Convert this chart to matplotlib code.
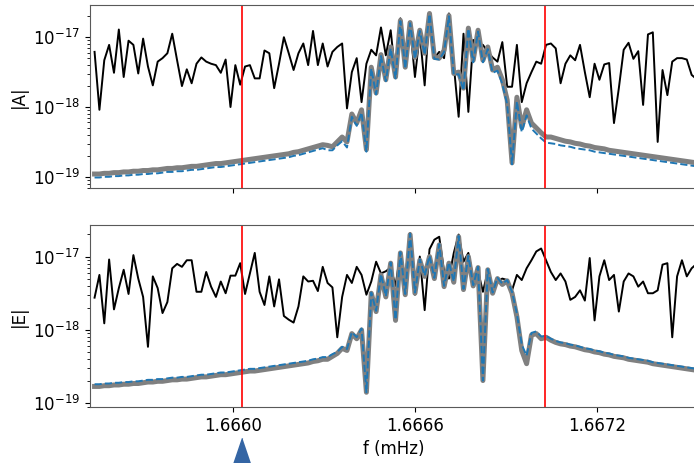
import matplotlib
matplotlib.use('Agg')
import matplotlib.pyplot as plt
import numpy as np
from matplotlib.ticker import FixedLocator, FormatStrFormatter

# frequency grid (mHz)
f_start = 1.665544
df = 1.6e-5

# log10 amplitudes, A channel
A_data = [-17.21, -18.04, -17.33, -17.11, -17.51, -16.89, -17.57, -17.05, -17.11, -17.52, -17.02, -17.42,
          -17.69, -17.35, -17.30, -17.23, -16.95, -17.33, -17.70, -17.46, -17.66, -17.38, -17.29, -17.35,
          -17.38, -17.40, -17.51, -17.32, -18.00, -17.40, -17.68, -17.42, -17.40, -17.59, -17.59, -17.19,
          -17.23, -17.73, -17.38, -17.00, -17.23, -17.47, -17.23, -17.09, -17.40, -16.91, -17.40, -17.09, -17.42,
          -17.21, -17.14, -17.09, -18.02, -17.50, -17.30, -17.93, -17.38, -17.18, -17.26, -16.86, -17.26, -16.90,
          -17.57, -16.73, -17.40, -16.85, -17.57, -16.95, -17.69, -16.66, -17.30, -17.21, -17.30, -16.66, -17.40,
          -18.14, -16.95, -18.07, -17.04, -17.10, -17.11, -17.21, -17.29, -17.35,
          -17.07, -17.71, -17.71, -17.11, -17.93, -17.66, -17.50, -17.35, -17.38, -17.11, -17.09, -17.16, -17.66,
          -17.38, -17.26, -17.33, -17.11, -17.50, -17.86, -17.38, -17.61, -17.39, -17.37, -18.23, -17.73, -17.18,
          -17.08, -17.31, -17.20, -17.97, -16.96, -16.93, -18.50, -17.47, -17.83, -17.35, -17.30, -17.30, -17.32,
          -17.54, -17.60]
A_model = [-18.96, -18.96, -18.95, -18.95, -18.94, -18.94, -18.93, -18.93, -18.92, -18.92,
           -18.91, -18.91, -18.90, -18.90, -18.89, -18.88, -18.88, -18.87, -18.87, -18.86,
           -18.85, -18.85, -18.84, -18.83, -18.82, -18.81, -18.81, -18.80, -18.79, -18.78,
           -18.77, -18.76, -18.75, -18.74, -18.73, -18.72, -18.71, -18.70, -18.69, -18.68,
           -18.67, -18.65, -18.64, -18.62, -18.60, -18.58, -18.56, -18.54, -18.55, -18.57, -18.50, -18.43, -18.50,
           -18.10, -18.23, -18.04, -18.61, -17.43, -17.80, -17.25, -17.61, -17.14, -17.57, -16.76, -17.43, -16.79,
           -17.29, -16.90, -17.23, -16.66, -17.29, -17.30, -17.19, -16.69, -17.52, -17.50, -17.73, -16.87, -17.33,
           -16.90, -17.33, -17.14, -17.47, -17.43, -17.61, -17.90, -18.80, -17.86, -18.29, -18.04, -18.23, -18.30,
           -18.37, -18.43, -18.43, -18.45, -18.47,
           -18.49, -18.50, -18.52, -18.53, -18.55, -18.56, -18.58, -18.59, -18.60, -18.62, -18.63, -18.64, -18.65,
           -18.66, -18.67, -18.68, -18.69, -18.70, -18.71, -18.72, -18.73, -18.74, -18.75, -18.76, -18.77, -18.78,
           -18.79, -18.80]
A_fit = [-19.01, -19.01, -19.00, -19.00, -18.99, -18.99, -18.98, -18.98, -18.97, -18.97,
         -18.96, -18.96, -18.95, -18.95, -18.94, -18.93, -18.93, -18.92, -18.92, -18.91,
         -18.90, -18.90, -18.89, -18.88, -18.87, -18.86, -18.86, -18.85, -18.84, -18.83,
         -18.82, -18.81, -18.80, -18.79, -18.78, -18.77, -18.76, -18.75, -18.74, -18.73,
         -18.72, -18.70, -18.69, -18.67, -18.65, -18.63, -18.61, -18.59, -18.62, -18.62, -18.55, -18.49, -18.58,
         -18.14, -18.27, -18.08, -18.64, -17.45, -17.82, -17.27, -17.63, -17.16, -17.59, -16.77, -17.45, -16.80,
         -17.31, -16.91, -17.25, -16.67, -17.31, -17.32, -17.21, -16.70, -17.54, -17.53, -17.76, -16.88, -17.36,
         -16.92, -17.36, -17.17, -17.51, -17.48, -17.67, -17.96, -18.82, -17.92, -18.36, -18.12, -18.31, -18.38,
         -18.45, -18.51, -18.52, -18.53, -18.55,
         -18.56, -18.57, -18.59, -18.60, -18.61, -18.62, -18.64, -18.65, -18.66, -18.67, -18.68, -18.69, -18.70,
         -18.71, -18.72, -18.73, -18.74, -18.75, -18.76, -18.77, -18.78, -18.79, -18.80, -18.81, -18.82, -18.83,
         -18.84, -18.85]

# log10 amplitudes, E channel
E_data = [-17.56, -17.25, -17.91, -17.04, -17.72, -17.43, -17.18, -17.51, -16.98, -17.30, -17.55, -18.23,
          -17.27, -17.43, -17.77, -17.62, -17.16, -17.10, -17.14, -17.05, -17.05, -17.48, -17.48, -17.21,
          -17.41, -17.55, -17.34, -17.50, -17.26, -17.26, -17.09, -17.51, -17.23, -16.95, -17.48, -17.66,
          -17.27, -17.68, -17.31, -17.81, -17.86, -17.90, -17.68, -17.27, -17.34, -17.33, -17.47, -17.14, -17.36,
          -17.42, -18.10, -17.55, -17.25, -17.36, -17.14, -17.25, -17.52, -17.34, -17.07, -17.23,
          -17.20, -17.15, -17.40, -16.95, -17.30, -16.68, -17.52, -17.00, -17.73, -16.90, -16.77, -16.73,
          -17.20, -17.30, -16.95, -16.70, -17.07, -16.95, -17.30, -17.20,
          -17.48, -17.20, -17.45, -17.34, -17.30, -17.32, -17.46, -17.25, -17.32, -17.16, -17.05, -16.93,
          -16.89, -17.05, -17.21, -17.32, -17.23, -17.34, -17.59, -17.55, -17.46, -17.60, -17.02, -17.87,
          -17.27, -17.05, -17.32, -17.25, -17.75, -17.34, -17.23, -17.27, -17.41, -17.34, -17.50, -17.50,
          -17.46, -17.11, -17.09, -18.10, -17.27, -17.05, -17.27, -17.16, -17.10]
E_model = [-18.77, -18.77, -18.76, -18.76, -18.75, -18.75, -18.74, -18.74, -18.73, -18.73,
           -18.72, -18.71, -18.71, -18.70, -18.70, -18.69, -18.68, -18.68, -18.67, -18.67,
           -18.66, -18.65, -18.64, -18.64, -18.63, -18.62, -18.61, -18.61, -18.60, -18.59,
           -18.58, -18.57, -18.56, -18.56, -18.55, -18.54, -18.53, -18.52, -18.51, -18.50,
           -18.49, -18.48, -18.47, -18.46, -18.45, -18.43, -18.42, -18.40, -18.40,
           -18.36, -18.32, -18.25, -18.28, -18.05, -18.12, -18.00, -18.85, -17.50, -17.75, -17.25,
           -17.55, -17.09, -17.87, -16.95, -17.52, -16.70, -17.50, -17.05, -17.27, -17.00, -17.30, -16.84,
           -17.41, -17.09, -17.35, -16.73, -17.45, -17.00, -17.40, -17.15,
           -18.69, -17.18, -17.50, -17.30, -17.38, -17.33, -17.50, -17.82, -18.28, -18.46, -18.07, -18.05,
           -18.12, -18.10, -18.14, -18.17, -18.19,
           -18.20, -18.22, -18.23, -18.25, -18.27, -18.28, -18.30, -18.31, -18.33, -18.34, -18.36, -18.37,
           -18.38, -18.40, -18.41, -18.42, -18.43, -18.44, -18.46, -18.47, -18.48, -18.49, -18.50, -18.51,
           -18.52, -18.53, -18.54, -18.55]
E_fit = [-18.74, -18.74, -18.73, -18.73, -18.72, -18.72, -18.71, -18.71, -18.70, -18.70,
         -18.69, -18.68, -18.68, -18.67, -18.67, -18.66, -18.65, -18.65, -18.64, -18.64,
         -18.63, -18.62, -18.61, -18.61, -18.60, -18.59, -18.58, -18.58, -18.57, -18.56,
         -18.55, -18.54, -18.53, -18.53, -18.52, -18.51, -18.50, -18.49, -18.48, -18.47,
         -18.46, -18.45, -18.44, -18.43, -18.42, -18.40, -18.39, -18.37, -18.37,
         -18.33, -18.30, -18.23, -18.26, -18.03, -18.10, -17.98, -18.85, -17.49, -17.74, -17.24,
         -17.54, -17.08, -17.86, -16.94, -17.51, -16.69, -17.49, -17.04, -17.26, -16.99, -17.29, -16.83,
         -17.40, -17.08, -17.34, -16.72, -17.44, -16.99, -17.39, -17.14,
         -18.69, -17.17, -17.49, -17.29, -17.37, -17.32, -17.48, -17.78, -18.20, -18.35, -18.04, -18.02,
         -18.09, -18.08, -18.12, -18.15, -18.17,
         -18.18, -18.20, -18.21, -18.23, -18.25, -18.26, -18.28, -18.29, -18.31, -18.32, -18.34, -18.35,
         -18.36, -18.38, -18.39, -18.40, -18.41, -18.42, -18.44, -18.45, -18.46, -18.47, -18.48, -18.49,
         -18.50, -18.51, -18.52, -18.53]

band = [1.66603, 1.66703]
f_marker = 1.66603
xticks = [1.6660, 1.6666, 1.6672]

freqs = f_start + df * np.arange(len(A_data))

fig = plt.figure(figsize=(6.94, 4.63), dpi=100)
ax1 = fig.add_axes([0.1297, 0.594, 0.8761, 0.395])
ax2 = fig.add_axes([0.1297, 0.121, 0.8761, 0.393], sharex=ax1)

panels = [(ax1, A_data, A_model, A_fit, '|A|', (10**-19.16, 10**-16.54)),
          (ax2, E_data, E_model, E_fit, '|E|', (10**-19.05, 10**-16.57))]

for ax, dat, mod, fit, lab, ylim in panels:
    ax.plot(freqs, 10**np.array(dat), color='black', lw=1.4)
    ax.plot(freqs, 10**np.array(mod), color='gray', lw=3.6)
    ax.plot(freqs, 10**np.array(fit), color='#1f77b4', lw=1.4, ls='--')
    for fb in band:
        ax.axvline(fb, color='red', lw=1.2)
    ax.set_yscale('log')
    ax.set_ylim(ylim)
    ax.set_ylabel(lab, fontsize=12)
    ax.tick_params(labelsize=12)
    for s in ax.spines.values():
        s.set_color('0.35')

ax1.set_xlim(1.665529, 1.667533)
ax1.xaxis.set_major_locator(FixedLocator(xticks))
ax1.xaxis.set_major_formatter(FormatStrFormatter('%.4f'))
ax1.tick_params(labelbottom=False)
ax2.set_xlabel('f (mHz)', fontsize=12)

# marker under the axis at the source frequency
tri = [(0, 1), (-0.68, -1), (0.68, -1)]
ax2.plot([f_marker], [-0.28], marker=tri, ms=29, color='#3465a4', ls='none',
         transform=ax2.get_xaxis_transform(), clip_on=False)

fig.savefig('out.png', dpi=100)
